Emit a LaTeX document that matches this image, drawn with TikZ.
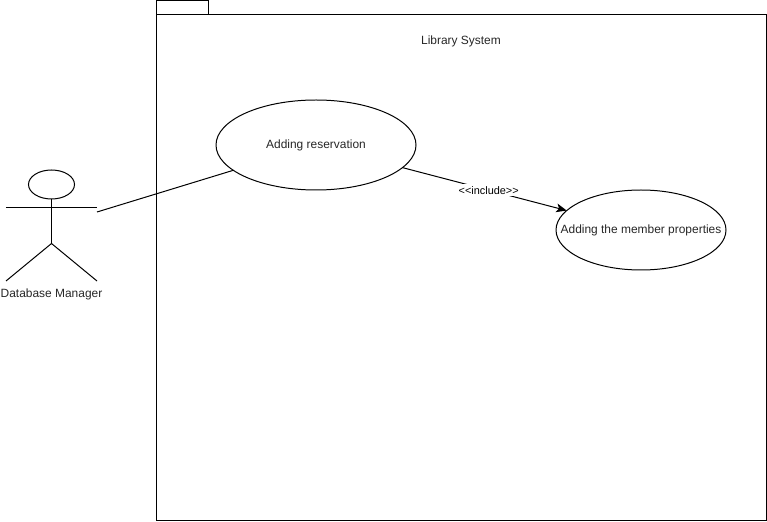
\documentclass[tikz,border=0pt]{standalone}
\usepackage{fontspec}
\setmainfont{Liberation Sans}
\usetikzlibrary{shapes.geometric,arrows.meta,positioning}
\tikzset{
  usecase/.style={draw=black, ellipse, inner sep=0pt, outer sep=0pt},
  caption/.style={font=\fontsize{6.8}{8}\selectfont, text=black!85, inner sep=0pt},
  limb/.style={draw=black},
}
\begin{document}
\begin{tikzpicture}[line width=0.567pt]
\useasboundingbox (0,0) rectangle (15.34,10.42);
% Package
\draw (3.13,0.01) rectangle (15.33,10.13);
\draw (3.13,10.13) rectangle (4.17,10.41);
\node[caption] (system) at (9.22,9.59) {Library System};
% Actor
\node[usecase, minimum width=0.92cm, minimum height=0.58cm] (head) at (1.03,6.73) {};
\coordinate (armleft) at (0.12,6.27);
\coordinate (armright) at (1.94,6.27);
\coordinate (hip) at (1.03,5.55);
\coordinate (legleft) at (0.12,4.80);
\coordinate (legright) at (1.94,4.80);
\coordinate (actorend) at (1.94,6.18);
\draw[limb] (head.south) -- (hip);
\draw[limb] (armleft) -- (armright);
\draw[limb] (legleft) -- (hip) -- (legright);
\node[caption] (manager) at (1.03,4.54) {Database Manager};
% Use cases
\node[usecase, minimum width=4cm, minimum height=1.8cm, label={[caption,yshift=-0.5pt]center:Adding reservation}] (reservation) at (6.32,7.52) {};
\node[usecase, minimum width=3.4cm, minimum height=1.6cm, label={[caption,yshift=-0.5pt]center:Adding the member properties}] (properties) at (12.82,5.82) {};
% Connectors
\draw (actorend) -- (reservation);
\draw[-{Stealth[length=6pt,width=5pt,inset=1.5pt]}] (reservation) -- node[pos=0.525, fill=white, inner sep=0.5pt, minimum height=0.25cm, font=\fontsize{6.2}{7}\selectfont] (include) {<{}<include>{}>} (properties);
\end{tikzpicture}
\end{document}
